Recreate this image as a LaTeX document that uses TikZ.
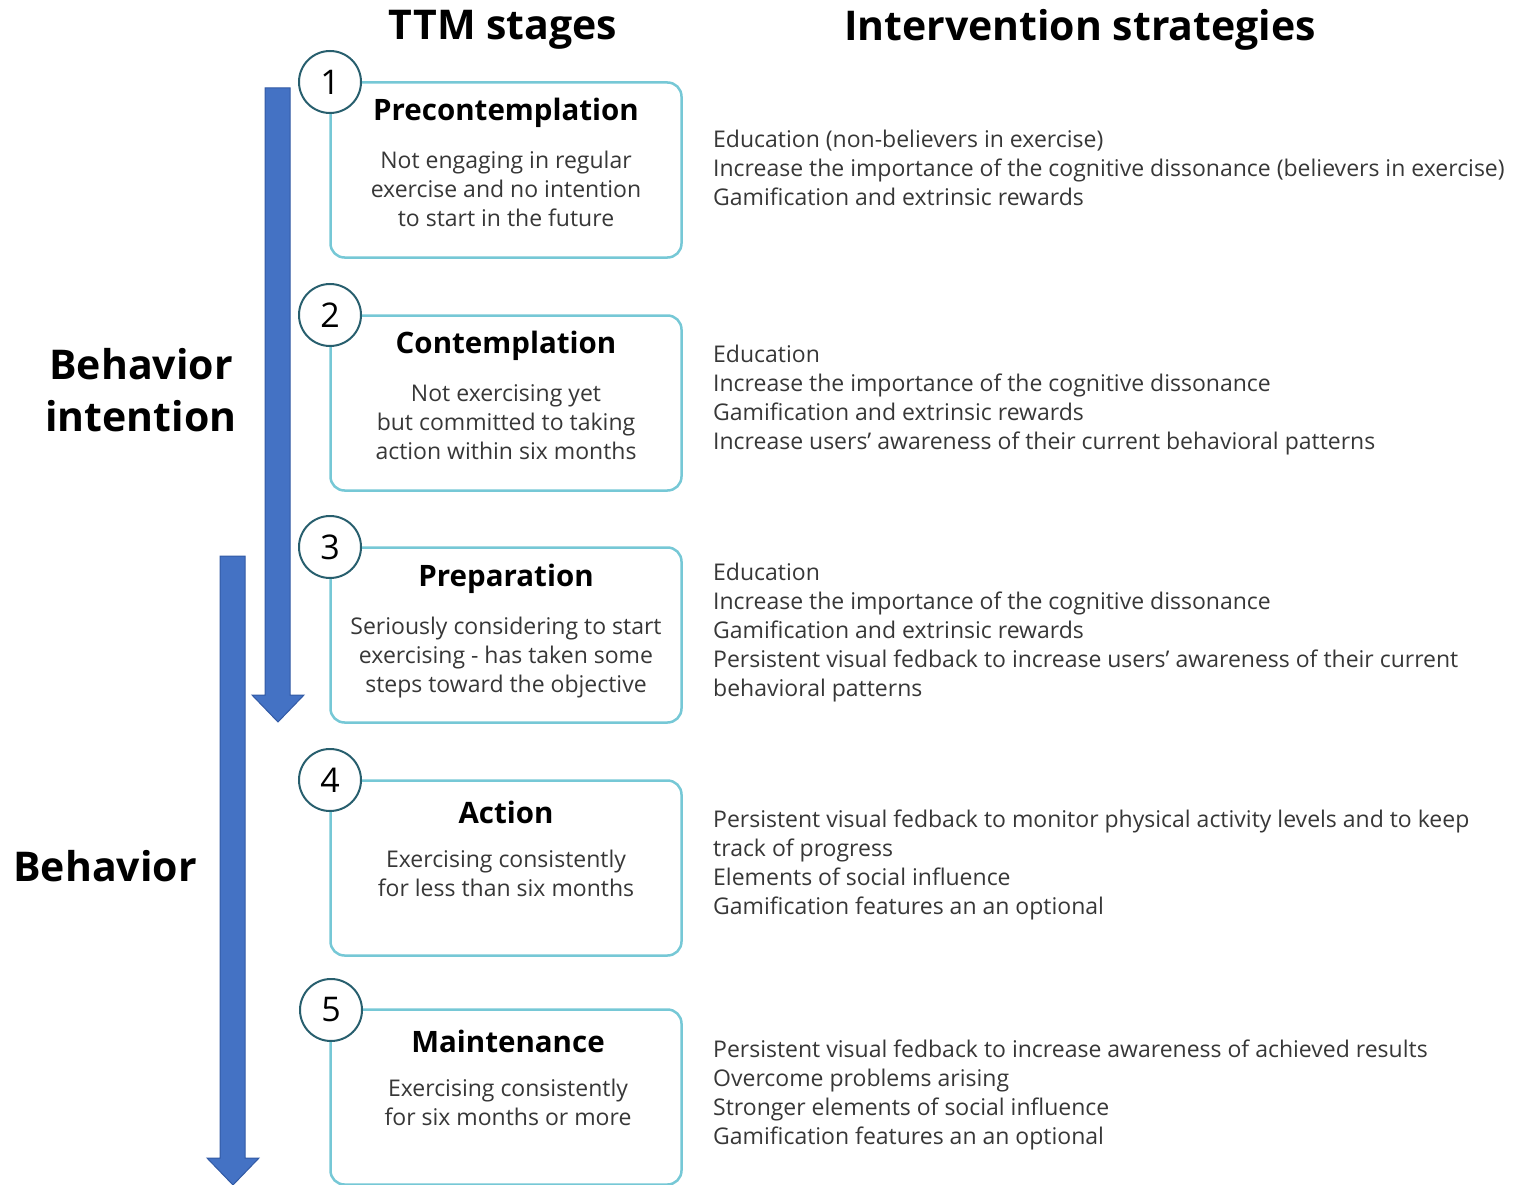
\documentclass[tikz,border=0pt]{standalone}
\usepackage{fontspec}
\setmainfont{Open Sans}
\usepackage{tikz}
\usetikzlibrary{positioning}
\definecolor{boxcyan}{RGB}{118,200,214}
\definecolor{numteal}{RGB}{40,95,110}
\definecolor{textgrey}{RGB}{55,55,55}
\definecolor{arrowblue}{RGB}{68,114,196}
\definecolor{arrowedge}{RGB}{50,90,165}
\tikzstyle{stagebox}=[draw=boxcyan,line width=2.5pt,rounded corners=14pt,fill=white,minimum width=351pt,minimum height=175pt]
\tikzstyle{stagenum}=[circle,draw=numteal,line width=2pt,fill=white,minimum size=62pt,inner sep=0pt,font=\fontsize{34}{34}\selectfont]
\tikzstyle{stagetitle}=[font=\fontsize{29.5}{32}\selectfont\bfseries]
\tikzstyle{stagetext}=[anchor=north,align=center,inner sep=0pt,text=textgrey,font=\fontsize{23}{29}\selectfont]
\tikzstyle{strategy}=[anchor=west,align=left,inner sep=0pt,text=textgrey,font=\fontsize{23}{29}\selectfont]
\tikzstyle{heading}=[font=\fontsize{41}{44}\selectfont\bfseries]
\tikzstyle{phase}=[align=center,font=\fontsize{41}{52}\selectfont\bfseries]
\tikzstyle{bigarrow}=[fill=arrowblue,draw=arrowedge,line width=1pt]

\begin{document}
\begin{tikzpicture}[x=1pt,y=-1pt]
	\useasboundingbox (0,0) rectangle (1518,1185);
	% headings
	\node[heading] (ttm) at (503,30) {TTM stages};
	\node[heading] (ivs) at (1080,30) {Intervention strategies};
	% the two phase arrows
	\draw[bigarrow] (265,88) -- (290,88) -- (290,695) -- (304,695) -- (278,722)
		-- (252,695) -- (265,695) -- cycle;
	\draw[bigarrow] (220,556) -- (245,556) -- (245,1158) -- (259,1158) -- (233,1185)
		-- (207,1158) -- (220,1158) -- cycle;
	\node[phase] (intent) at (141,390) {Behavior\\intention};
	\node[phase] (behav)  at (105,866) {Behavior};
	% stages
	\node[stagebox] (pre)  at (506,170) {};
	\node[stagebox] (con)  at (506,403) {};
	\node[stagebox] (prep) at (506,635) {};
	\node[stagebox] (act)  at (506,868) {};
	\node[stagebox] (main) at (506,1097) {};
	\node[stagenum] (n1) at (330,82)   {1};
	\node[stagenum] (n2) at (330,315)  {2};
	\node[stagenum] (n3) at (330,547)  {3};
	\node[stagenum] (n4) at (330,780)  {4};
	\node[stagenum] (n5) at (331,1010) {5};
	\node[stagetitle] (t1) at (506,113)  {Precontemplation};
	\node[stagetitle] (t2) at (506,346)  {Contemplation};
	\node[stagetitle] (t3) at (506,579)  {Preparation};
	\node[stagetitle] (t4) at (506,812)  {Action};
	\node[stagetitle] (t5) at (508,1041) {Maintenance};
	\node[stagetext] (d1) at (506,151)  {Not engaging in regular\\exercise and no intention\\to start in the future};
	\node[stagetext] (d2) at (506,384)  {Not exercising yet\\but committed to taking\\action within six months};
	\node[stagetext] (d3) at (506,617)  {Seriously considering to start\\exercising - has taken some\\steps toward the objective};
	\node[stagetext] (d4) at (506,850)  {Exercising consistently\\for less than six months};
	\node[stagetext] (d5) at (508,1079) {Exercising consistently\\for six months or more};
	% strategies
	\node[strategy] (s1) at (713,168) {Education (non-believers in exercise)\\Increase the importance of the cognitive dissonance (believers in exercise)\\Gamification and extrinsic rewards};
	\node[strategy] (s2) at (713,400) {Education\\Increase the importance of the cognitive dissonance\\Gamification and extrinsic rewards\\Increase users’ awareness of their current behavioral patterns};
	\node[strategy] (s3) at (713,633) {Education\\Increase the importance of the cognitive dissonance\\Gamification and extrinsic rewards\\Persistent visual fedback to increase users’ awareness of their current\\behavioral patterns};
	\node[strategy] (s4) at (713,865) {Persistent visual fedback to monitor physical activity levels and to keep\\track of progress\\Elements of social influence\\Gamification features an an optional};
	\node[strategy] (s5) at (713,1095) {Persistent visual fedback to increase awareness of achieved results\\Overcome problems arising\\Stronger elements of social influence\\Gamification features an an optional};
\end{tikzpicture}
\end{document}
